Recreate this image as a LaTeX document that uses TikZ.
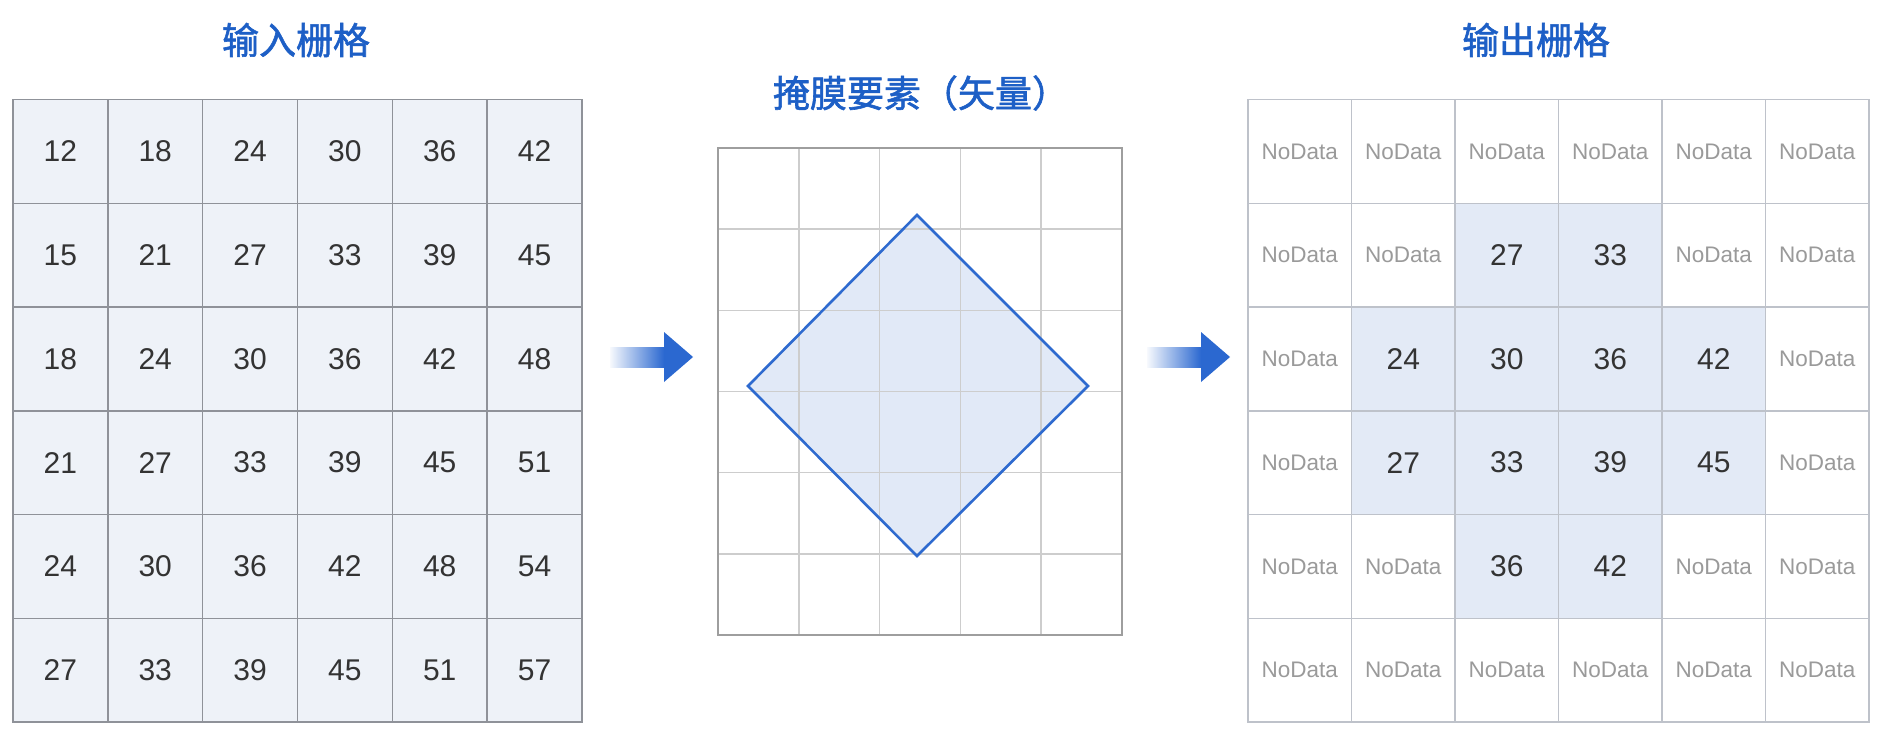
\documentclass[tikz,border=0pt]{standalone}
\usepackage{fontspec}
\setmainfont{Liberation Sans}
\newfontfamily\cjk[FakeBold=1.6]{Noto Sans CJK SC}
\definecolor{titleblue}{HTML}{1D5FC6}
\definecolor{arrowblue}{HTML}{2B68D0}
\definecolor{diamondblue}{HTML}{2E6ACF}
\definecolor{diamondfill}{HTML}{DCE6F6}
\definecolor{lgrid}{HTML}{8F9299}
\definecolor{lfill}{HTML}{EEF2F8}
\definecolor{rgrid}{HTML}{BEC2CA}
\definecolor{rfill}{HTML}{E3EAF6}
\definecolor{mgrid}{HTML}{CDCDCD}
\definecolor{mframe}{HTML}{9E9E9E}
\definecolor{numtext}{HTML}{333333}
\definecolor{ndtext}{HTML}{9A9A9A}
\begin{document}
\begin{tikzpicture}[x=1pt,y=-1pt,
  title/.style={text=titleblue, font=\cjk\fontsize{37}{44}\selectfont, inner sep=0},
  lcell/.style={draw=lgrid, line width=1.5pt, fill=lfill, minimum width=94.83pt, minimum height=103.75pt, inner sep=0, text=numtext, font=\fontsize{30}{36}\selectfont},
  rcell/.style={draw=rgrid, line width=1.5pt, fill=white, minimum width=103.5pt, minimum height=103.75pt, inner sep=0, text=ndtext, font=\fontsize{22.5}{27}\selectfont},
  rval/.style={fill=rfill, text=numtext, font=\fontsize{30}{36}\selectfont},
  mline/.style={draw=mgrid, line width=1.5pt},
]
\useasboundingbox (0,0) rectangle (1882,736);
\fill[white] (0,0) rectangle (1882,736);

% titles
\node[title] (T1) at (296,40) {输入栅格};
\node[title] (T2) at (921,93) {掩膜要素（矢量）};
\node[title] (T3) at (1536,40) {输出栅格};

% input grid
\foreach \row [count=\r] in {{12,18,24,30,36,42},{15,21,27,33,39,45},{18,24,30,36,42,48},{21,27,33,39,45,51},{24,30,36,42,48,54},{27,33,39,45,51,57}} {
  \foreach \v [count=\c] in \row {
    \node[lcell] (L-\r-\c) at ({13+(\c-0.5)*94.83},{99.5+(\r-0.5)*103.75}) {\v};
  }
}

% output grid (0 = NoData)
\foreach \row [count=\r] in {{0,0,0,0,0,0},{0,0,27,33,0,0},{0,24,30,36,42,0},{0,27,33,39,45,0},{0,0,36,42,0,0},{0,0,0,0,0,0}} {
  \foreach \v [count=\c] in \row {
    \ifnum\v=0
      \node[rcell] (R-\r-\c) at ({1248+(\c-0.5)*103.5},{99.5+(\r-0.5)*103.75}) {NoData};
    \else
      \node[rcell,rval] (R-\r-\c) at ({1248+(\c-0.5)*103.5},{99.5+(\r-0.5)*103.75}) {\v};
    \fi
  }
}

% mask grid
\node[draw=none, minimum width=404pt, minimum height=487pt, inner sep=0, anchor=north west] (M) at (718,148) {};
\fill[diamondfill, opacity=0.85] (917,215) -- (1088,386) -- (917,556) -- (748,386) -- cycle;
\foreach \i in {1,...,4} { \draw[mline] ({718+\i*80.8},148) -- ({718+\i*80.8},635); }
\foreach \j in {1,...,5} { \draw[mline] (718,{148+\j*81.17}) -- (1122,{148+\j*81.17}); }
\draw[mframe, line width=2pt] (M.north west) rectangle (M.south east);
\draw[diamondblue, line width=2.6pt, line join=miter] (917,215) -- (1088,386) -- (917,556) -- (748,386) -- cycle;

% arrows
\coordinate (a1s) at (610,357);
\coordinate (a1b) at (664,357);
\coordinate (a1e) at (693,357);
\shade[left color=arrowblue!4, right color=arrowblue] ([yshift=-10]a1s) rectangle ([yshift=10]a1b);
\fill[arrowblue] ([yshift=-25]a1b) -- (a1e) -- ([yshift=25]a1b) -- cycle;
\coordinate (a2s) at (1147,357);
\coordinate (a2b) at (1201,357);
\coordinate (a2e) at (1230,357);
\shade[left color=arrowblue!4, right color=arrowblue] ([yshift=-10]a2s) rectangle ([yshift=10]a2b);
\fill[arrowblue] ([yshift=-25]a2b) -- (a2e) -- ([yshift=25]a2b) -- cycle;
\end{tikzpicture}
\end{document}
